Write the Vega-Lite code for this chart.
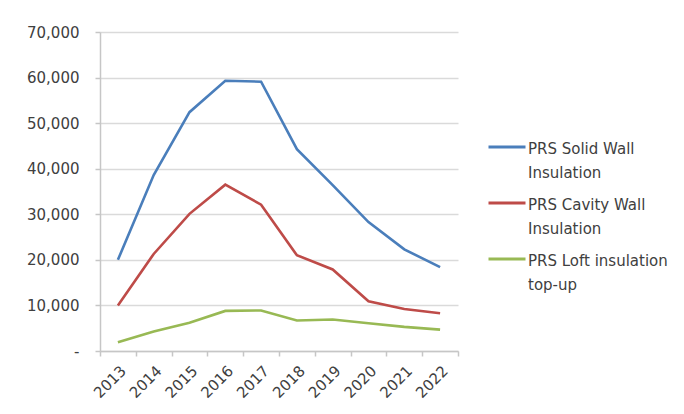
{
  "$schema": "https://vega.github.io/schema/vega-lite/v6.json",
  "width": 358,
  "height": 319,
  "autosize": {"type": "none"},
  "padding": {"left": 100, "top": 32, "right": 226, "bottom": 63},
  "background": "white",
  "config": {
    "view": {"stroke": null},
    "font": "DejaVu Sans",
    "axis": {"labelFont": "DejaVu Sans", "labelFontSize": 15, "labelColor": "#404040", "domainColor": "#c6c6c6", "tickColor": "#c6c6c6", "gridColor": "#dadada", "gridWidth": 1.5, "domainWidth": 1.5, "tickWidth": 1.5, "tickSize": 5, "title": null},
    "legend": {"labelFont": "DejaVu Sans", "labelFontSize": 15, "labelColor": "#404040"}
  },
  "data": {
    "values": [
      {"year": "2013", "series": "PRS Solid Wall Insulation", "value": 20000},
      {"year": "2014", "series": "PRS Solid Wall Insulation", "value": 38600},
      {"year": "2015", "series": "PRS Solid Wall Insulation", "value": 52400},
      {"year": "2016", "series": "PRS Solid Wall Insulation", "value": 59300},
      {"year": "2017", "series": "PRS Solid Wall Insulation", "value": 59100},
      {"year": "2018", "series": "PRS Solid Wall Insulation", "value": 44300},
      {"year": "2019", "series": "PRS Solid Wall Insulation", "value": 36400},
      {"year": "2020", "series": "PRS Solid Wall Insulation", "value": 28300},
      {"year": "2021", "series": "PRS Solid Wall Insulation", "value": 22300},
      {"year": "2022", "series": "PRS Solid Wall Insulation", "value": 18400},
      {"year": "2013", "series": "PRS Cavity Wall Insulation", "value": 10000},
      {"year": "2014", "series": "PRS Cavity Wall Insulation", "value": 21300},
      {"year": "2015", "series": "PRS Cavity Wall Insulation", "value": 30100},
      {"year": "2016", "series": "PRS Cavity Wall Insulation", "value": 36500},
      {"year": "2017", "series": "PRS Cavity Wall Insulation", "value": 32100},
      {"year": "2018", "series": "PRS Cavity Wall Insulation", "value": 21000},
      {"year": "2019", "series": "PRS Cavity Wall Insulation", "value": 17900},
      {"year": "2020", "series": "PRS Cavity Wall Insulation", "value": 10900},
      {"year": "2021", "series": "PRS Cavity Wall Insulation", "value": 9200},
      {"year": "2022", "series": "PRS Cavity Wall Insulation", "value": 8300},
      {"year": "2013", "series": "PRS Loft insulation top-up", "value": 1900},
      {"year": "2014", "series": "PRS Loft insulation top-up", "value": 4300},
      {"year": "2015", "series": "PRS Loft insulation top-up", "value": 6200},
      {"year": "2016", "series": "PRS Loft insulation top-up", "value": 8800},
      {"year": "2017", "series": "PRS Loft insulation top-up", "value": 8900},
      {"year": "2018", "series": "PRS Loft insulation top-up", "value": 6700},
      {"year": "2019", "series": "PRS Loft insulation top-up", "value": 6900},
      {"year": "2020", "series": "PRS Loft insulation top-up", "value": 6100},
      {"year": "2021", "series": "PRS Loft insulation top-up", "value": 5300},
      {"year": "2022", "series": "PRS Loft insulation top-up", "value": 4700}
    ]
  },
  "mark": {"type": "line", "strokeWidth": 2.6},
  "encoding": {
    "x": {
      "field": "year", "type": "ordinal", "bandPosition": 0.5,
      "scale": {"type": "band", "paddingInner": 0, "paddingOuter": 0},
      "axis": {"labelAngle": -45, "labelAlign": "right", "labelBaseline": "top", "tickBand": "extent", "grid": false, "labelPadding": 7}
    },
    "y": {
      "field": "value", "type": "quantitative",
      "scale": {"domain": [0, 70000], "nice": false},
      "axis": {"values": [0, 10000, 20000, 30000, 40000, 50000, 60000, 70000], "labelExpr": "datum.value == 0 ? '-' : format(datum.value, ',')", "labelPadding": 16, "grid": true}
    },
    "color": {
      "field": "series", "type": "nominal",
      "scale": {"domain": ["PRS Solid Wall Insulation", "PRS Cavity Wall Insulation", "PRS Loft insulation top-up"], "range": ["#4a7ebb", "#be4b48", "#98b954"]},
      "legend": {
        "title": null, "orient": "none", "legendX": 387, "legendY": 95,
        "symbolType": "stroke", "symbolSize": 1369, "symbolStrokeWidth": 3,
        "labelOffset": 1, "rowPadding": 2, "padding": 0,
        "labelExpr": "datum.label == 'PRS Solid Wall Insulation' ? ['PRS Solid Wall', 'Insulation'] : datum.label == 'PRS Cavity Wall Insulation' ? ['PRS Cavity Wall', 'Insulation'] : ['PRS Loft insulation', 'top-up']",
        "labelBaseline": "middle",
        "encode": {"labels": {"update": {"dy": {"value": 2}, "lineHeight": {"value": 24}}}}
      }
    }
  }
}
